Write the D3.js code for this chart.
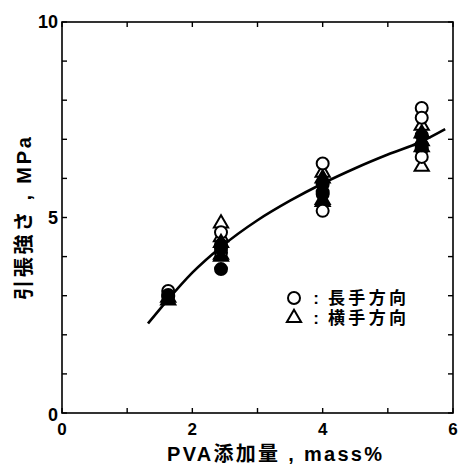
<!DOCTYPE html>
<html><head><meta charset="utf-8">
<script src="https://cdn.jsdelivr.net/npm/d3@7"></script>
<style>body{margin:0;background:#fff}svg{display:block}</style>
</head><body>
<svg id="c" width="459" height="466"></svg>
<script>
// ---- data ----
const xTicks = [0, 2, 4, 6];
const yTicks = [0, 5, 10];
const longX  = [1.63, 1.63, 2.44, 2.44, 2.44, 4.0, 4.0, 4.0, 5.52, 5.52, 5.52, 5.52];
const longY  = [3.12, 3.02, 4.62, 4.30, 4.10, 6.38, 5.60, 5.17, 7.80, 7.55, 6.75, 6.55];
const transX = [1.63, 2.44, 2.44, 2.44, 4.0, 4.0, 5.52, 5.52, 5.52];
const transY = [2.95, 4.85, 4.50, 4.05, 6.15, 5.40, 7.35, 6.95, 6.30];
const fillCX = [1.63, 2.44, 2.44, 4.0, 4.0, 5.52, 5.52];
const fillCY = [2.98, 4.20, 3.68, 5.85, 5.65, 7.10, 6.85];
const fillTX = [1.63, 2.44, 2.44, 4.0, 4.0, 5.52, 5.52];
const fillTY = [2.88, 4.35, 4.00, 6.00, 5.45, 7.15, 6.80];
const curveX = [1.32, 1.6, 2.0, 2.45, 3.0, 3.5, 4.0, 4.5, 5.0, 5.5, 5.88];
const curveY = [2.29, 2.85, 3.59, 4.26, 4.93, 5.43, 5.87, 6.26, 6.61, 6.93, 7.26];
const legendLabels = ["長手方向", "横手方向"];
const xTitle = "PVA添加量 , mass%";
const yTitle = "引張強さ , MPa";

const svg = d3.select("#c");
const L = 62, R = 453, T = 22, B = 413;
const x = d3.scaleLinear().domain([0, 6]).range([L, R]);
const y = d3.scaleLinear().domain([0, 10]).range([B, T]);
const font = "'Liberation Sans', Arial, sans-serif";
const mixed = "'Liberation Sans', 'Noto Sans CJK JP', sans-serif";
const cjk = "'Noto Sans CJK JP', sans-serif";

// frame
svg.append("rect").attr("x", L).attr("y", T).attr("width", R - L).attr("height", B - T)
  .attr("fill", "none").attr("stroke", "#000").attr("stroke-width", 1.6);

// ticks (inward) on all sides
const tl = 5;
const xt = d3.range(0, 7, 1), yt = d3.range(0, 11, 1);
const tg = svg.append("g").attr("stroke", "#000").attr("stroke-width", 1.4);
xt.forEach(v => {
  tg.append("line").attr("x1", x(v)).attr("x2", x(v)).attr("y1", B).attr("y2", B - tl);
  tg.append("line").attr("x1", x(v)).attr("x2", x(v)).attr("y1", T).attr("y2", T + tl);
});
yt.forEach(v => {
  tg.append("line").attr("y1", y(v)).attr("y2", y(v)).attr("x1", L).attr("x2", L + tl);
  tg.append("line").attr("y1", y(v)).attr("y2", y(v)).attr("x1", R).attr("x2", R - tl);
});

// tick labels
xTicks.forEach(v => {
  svg.append("text").attr("x", x(v)).attr("y", B + 22).attr("text-anchor", "middle")
    .attr("font-family", font).attr("font-size", 17).attr("font-weight", "bold").text(v);
});
yTicks.forEach(v => {
  svg.append("text").attr("x", L - 4).attr("y", y(v) + 6 + (v === 0 ? 2 : 0)).attr("text-anchor", "end")
    .attr("font-family", font).attr("font-size", 18).attr("font-weight", "bold").text(v);
});

// axis titles
svg.append("text").attr("x", 167).attr("y", 461)
  .attr("textLength", 215).attr("lengthAdjust", "spacing")
  .attr("font-family", mixed).attr("font-size", 20).attr("font-weight", "bold").text(xTitle);
svg.append("text").attr("transform", "translate(31,300) rotate(-90)")
  .attr("textLength", 163).attr("lengthAdjust", "spacing")
  .attr("font-family", mixed).attr("font-size", 20).attr("font-weight", "bold").text(yTitle);

// fitted curve
const line = d3.line().x(d => x(d[0])).y(d => y(d[1])).curve(d3.curveMonotoneX);
svg.append("path").datum(curveX.map((v, i) => [v, curveY[i]])).attr("d", line)
  .attr("fill", "none").attr("stroke", "#000").attr("stroke-width", 2.6);

// markers
const circ = d3.symbol().type(d3.symbolCircle).size(Math.PI * 6 * 6);
const tri = d3.symbol().type(d3.symbolTriangle).size(88);
function pts(xs, ys, sym, filled) {
  svg.append("g").selectAll("path").data(xs.map((v, i) => [v, ys[i]])).join("path")
    .attr("transform", d => `translate(${x(d[0])},${y(d[1])})`)
    .attr("d", sym)
    .attr("fill", filled ? "#000" : "#fff")
    .attr("stroke", "#000").attr("stroke-width", 2);
}
pts(transX, transY, tri, false);
pts(longX, longY, circ, false);
pts(fillTX, fillTY, tri, true);
pts(fillCX, fillCY, circ, true);

// legend
const lg = svg.append("g");
const rowY = [298, 318];
lg.append("path").attr("transform", `translate(294,${rowY[0]})`).attr("d", circ)
  .attr("fill", "#fff").attr("stroke", "#000").attr("stroke-width", 2);
lg.append("path").attr("transform", `translate(294,${rowY[1]})`).attr("d", tri)
  .attr("fill", "#fff").attr("stroke", "#000").attr("stroke-width", 2);
legendLabels.forEach((t, i) => {
  lg.append("text").attr("x", 316).attr("y", rowY[i] + 6).attr("text-anchor", "middle")
    .attr("font-family", font).attr("font-size", 17).attr("font-weight", "bold").text(":");
  lg.append("text").attr("x", 328).attr("y", rowY[i] + 6)
    .attr("textLength", 78).attr("lengthAdjust", "spacing")
    .attr("font-family", cjk).attr("font-size", 17).attr("font-weight", "bold").text(t);
});
</script>
</body></html>
